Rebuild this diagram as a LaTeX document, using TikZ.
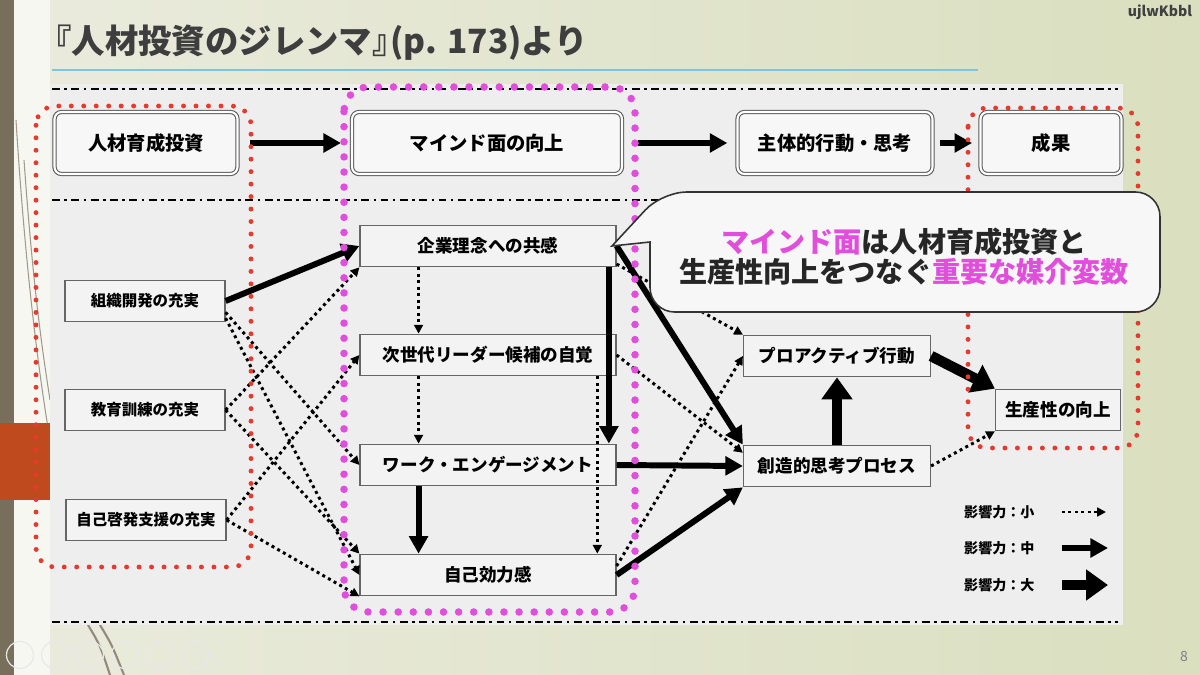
\documentclass[tikz,border=0pt]{standalone}
\usepackage{fontspec}
\setmainfont{Noto Sans CJK JP}
\usetikzlibrary{arrows.meta,calc,positioning}
\definecolor{slide}{HTML}{EAEBDD}
\definecolor{slidegreen}{HTML}{DADFBF}
\definecolor{strip}{HTML}{776E5C}
\definecolor{rust}{HTML}{BF4A1E}
\definecolor{panel}{HTML}{EEEEEE}
\definecolor{boxfill}{HTML}{F3F3F3}
\definecolor{titlegray}{HTML}{3E3E3E}
\definecolor{rule}{HTML}{7FC4DF}
\definecolor{grpred}{HTML}{E53A2E}
\definecolor{grpmag}{HTML}{E24EDC}

\begin{document}
\begin{tikzpicture}[x=0.02cm,y=-0.02cm,
  topbox/.style={draw=black!65,double=white,double distance=1.2pt,line width=0.6pt,rounded corners=4pt,fill=white!97!black,minimum height=1.24cm,font=\fontsize{11}{13}\selectfont\bfseries},
  box/.style={draw=black!60,line width=0.7pt,fill=boxfill,minimum height=0.83cm,inner sep=1pt,font=\fontsize{10}{12}\selectfont\bfseries},
  srcbox/.style={box,minimum width=3.2cm,font=\fontsize{8.8}{10}\selectfont\bfseries},
  midbox/.style={box,minimum width=5.12cm},
  outbox/.style={box,minimum width=3.74cm},
  weak/.style={line width=1.7pt,dash pattern=on 1.7pt off 2pt,-{Triangle[length=5pt,width=5pt]}},
  mid/.style={line width=3.4pt,-{Triangle[length=10pt,width=10.5pt]}},
  big/.style={line width=6pt,-{Triangle[length=12.5pt,width=17pt]}},
  dashdot/.style={line width=1.2pt,dash pattern=on 4.5pt off 2.5pt on 1.5pt off 2.5pt},
  redgrp/.style={draw=grpred,line width=2.8pt,line cap=round,dash pattern=on 0pt off 7.1pt,rounded corners=11pt},
  maggrp/.style={draw=grpmag,line width=4.3pt,line cap=round,dash pattern=on 0pt off 8.6pt,rounded corners=14pt},
  legend/.style={anchor=west,font=\fontsize{8}{10}\selectfont\bfseries}]
  \useasboundingbox (0,0) rectangle (1200,675);
  \shade[left color=slide,right color=slidegreen] (0,0) rectangle (1200,675);
  \fill[white!60!slide] (14,0) rectangle (50,675);
  \fill[strip] (0,0) rectangle (14,675);
  \draw[strip!70,line width=0.6pt] (16,120) .. controls (26,280) and (40,380) .. (50,440);
  \draw[strip!70,line width=0.6pt] (24,160) .. controls (34,300) and (44,360) .. (50,400);
  \draw[strip!80,line width=1.2pt] (88,625) .. controls (100,645) .. (110,675);
  \draw[strip!80,line width=1.2pt] (100,625) .. controls (112,645) .. (124,675);
  \fill[rust] (0,423) rectangle (50,500);
  \foreach \i in {0,...,5}
    \draw[gray!18,line width=0.7pt] (20+\i*35,655) circle[radius=0.27cm];

  \node[anchor=west,inner sep=0pt,text=titlegray,font=\fontsize{19}{22}\selectfont\bfseries] (title) at (38,43) {『人材投資のジレンマ』\kern-0.45em(p. 173)より};
  \draw[rule,line width=1.3pt] (52,70) -- (978,70);
  \node[font=\fontsize{8}{9}\selectfont\bfseries,text=black!75] (tag) at (1160,12) {ujlwKbbl};
  \node[font=\fontsize{8}{9}\selectfont,text=gray] (page) at (1184,656) {8};

  \fill[panel] (50,84) rectangle (1123,625);
  \draw[dashdot] (52,89) -- (1118,89);
  \draw[dashdot] (52,200) -- (1118,200);
  \draw[dashdot] (52,622) -- (1118,622);

  \node[topbox,minimum width=3.66cm] (inv) at (146,143) {人材育成投資};
  \node[topbox,minimum width=5.4cm] (mind) at (487,143) {マインド面の向上};
  \node[topbox,minimum width=3.9cm] (act) at (835,143) {主体的行動・思考};
  \node[topbox,minimum width=2.82cm] (res) at (1051,143) {成果};

  \node[srcbox] (org) at (145,301) {組織開発の充実};
  \node[srcbox] (edu) at (145,410) {教育訓練の充実};
  \node[srcbox] (self) at (146,520) {自己啓発支援の充実};

  \node[midbox] (ideal) at (488,246) {企業理念への共感};
  \node[midbox] (gen) at (488,355) {次世代リーダー候補の自覚};
  \node[midbox] (work) at (488,465) {ワーク・エンゲージメント};
  \node[midbox] (eff) at (488,575) {自己効力感};

  \node[outbox] (pro) at (837,356) {プロアクティブ行動};
  \node[outbox] (crea) at (837,466) {創造的思考プロセス};
  \node[box,minimum width=2.5cm] (prod) at (1058,410) {生産性の向上};

  \draw[mid,shorten <=7pt,shorten >=6pt] (inv) -- (mind);
  \draw[mid,shorten <=9pt,shorten >=5.5pt] (mind) -- (act);
  \draw[mid,shorten <=4pt,shorten >=4.5pt] (act) -- (res);

  \draw[mid] (org.east) -- (ideal.west);
  \draw[weak] (org.-8) -- (work.west);
  \draw[weak] (org.-12) -- (eff.west);
  \draw[weak] (edu.east) -- (ideal.south west);
  \draw[weak] (edu.east) -- (eff.north west);
  \draw[weak] (self.east) -- (gen.west);
  \draw[weak] (self.east) -- (eff.south west);

  \draw[weak] ($(ideal.south west)!0.23!(ideal.south east)$) -- ($(gen.north west)!0.23!(gen.north east)$);
  \draw[weak] ($(gen.south west)!0.23!(gen.south east)$) -- ($(work.north west)!0.23!(work.north east)$);
  \draw[mid] ($(work.south west)!0.23!(work.south east)$) -- ($(eff.north west)!0.23!(eff.north east)$);
  \draw[mid] ($(ideal.south west)!0.97!(ideal.south east)$) -- ($(work.north west)!0.97!(work.north east)$);
  \draw[weak] ($(gen.south west)!0.925!(gen.south east)$) -- ($(eff.north west)!0.925!(eff.north east)$);

  \draw[mid] (ideal.east) -- (crea.north west);
  \draw[weak] (ideal.-8) -- (pro.north west);
  \draw[weak] (gen.east) -- (crea.172);
  \draw[mid] (work.east) -- (crea.west);
  \draw[mid] (eff.east) -- (crea.south west);
  \draw[weak] (eff.4) -- (pro.west);
  \draw[big] (crea.north) -- (pro.south);
  \draw[big] (pro.east) -- (prod.north west);
  \draw[weak] (crea.east) -- (prod.south west);

  \draw[redgrp] (36,106) rectangle (251,567);
  \draw[redgrp] (968,108) rectangle (1138,448);
  \draw[maggrp] (344,87) rectangle (635,612);

  \draw[draw=black!80,line width=0.9pt,fill=white!97!black] (612,246) -- (650,242) [rounded corners=14pt] -- (650,312) -- (1160,312) -- (1160,192) -- (662,192) [sharp corners] -- cycle;
  \node[align=center,font=\fontsize{16}{17}\selectfont\bfseries,text=black!85] (msg) at (904,257)
    {\textcolor{grpmag}{マインド面}は人材育成投資と\\生産性向上をつなぐ\textcolor{grpmag}{重要な媒介変数}};

  \node[legend] (small) at (958,512) {影響力：小};
  \node[legend] (medium) at (958,548) {影響力：中};
  \node[legend] (large) at (958,585) {影響力：大};
  \coordinate (smallend) at (1106,512);
  \coordinate (mediumend) at (1108,548);
  \coordinate (largeend) at (1108,585);
  \draw[weak] ([xshift=12pt]small.east) -- (smallend);
  \draw[mid] ([xshift=12pt]medium.east) -- (mediumend);
  \draw[big] ([xshift=12pt]large.east) -- (largeend);
\end{tikzpicture}
\end{document}
